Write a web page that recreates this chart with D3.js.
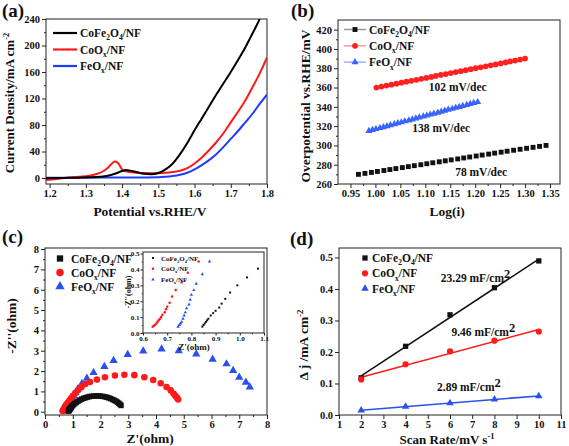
<!DOCTYPE html>
<html><head><meta charset="utf-8">
<script src="https://cdn.jsdelivr.net/npm/d3@7"></script>
<style>
body{margin:0;background:#fff}
svg{display:block}
text{font-family:"Liberation Serif","Times New Roman",serif;font-weight:bold;fill:#111}
</style>
</head><body>
<svg id="chart" width="569" height="446"></svg>
<script>
// ---------- shared ----------
const seriesLabels = [
  [["CoFe",0],["2",1],["O",0],["4",1],["/NF",0]],
  [["CoO",0],["x",1],["/NF",0]],
  [["FeO",0],["x",1],["/NF",0]]
];
const seriesColors = ["#000000","#ff1a1a","#1e3cff"];

// ---------- (a) LSV ----------
const lsvBlackE = [1.19,1.22,1.25,1.28,1.31,1.34,1.36,1.38,1.40,1.41,1.42,1.44,1.46,1.48,1.50,1.52,1.54,1.56,1.58,1.60,1.62,1.64,1.66,1.68,1.70,1.72,1.74,1.76,1.78];
const lsvBlackJ = [-0.5,0,0.3,0.6,1.0,2.0,3.5,6.5,10.5,12,11.5,9,6.5,5.8,7.5,13,22,36,53,72,90,108,126,143,160,178,197,218,240];
const lsvRedE = [1.19,1.22,1.25,1.28,1.31,1.33,1.35,1.36,1.37,1.38,1.39,1.40,1.41,1.42,1.44,1.46,1.48,1.50,1.52,1.54,1.56,1.58,1.60,1.62,1.64,1.66,1.68,1.70,1.72,1.74,1.76,1.78,1.80];
const lsvRedJ = [-3,-1.5,0.5,2,3.5,6,11,15,21,25,22,13,10,9,8,7.5,7.2,7.2,7.8,9,11,15,22,31,42,54,68,84,100,117,137,158,182];
const lsvBlueE = [1.19,1.25,1.30,1.35,1.40,1.45,1.50,1.52,1.54,1.56,1.58,1.60,1.62,1.64,1.66,1.68,1.70,1.72,1.74,1.76,1.78,1.80];
const lsvBlueJ = [0.3,0.5,0.6,0.7,0.8,0.9,1.2,1.8,3,5,8,13,19.5,27,36,47,59,71,84,97,112,126];
const lsvXTicks = [1.2,1.3,1.4,1.5,1.6,1.7,1.8];
const lsvYTicks = [0,40,80,120,160,200,240];

// ---------- (b) Tafel ----------
const tafelBlackX = [0.966,0.979,0.992,1.004,1.017,1.029,1.041,1.054,1.066,1.078,1.091,1.103,1.115,1.128,1.140,1.152,1.165,1.177,1.189,1.202,1.214,1.227,1.239,1.252,1.264,1.277,1.290,1.303,1.316,1.329,1.342];
const tafelBlackY = [270,271,272,273,274,275,276,277,278,279,280,281,282,283,284,285,286,287,288,289,290,291,292,293,294,295,296,297,298,299,300];
const tafelRedX = [1.002,1.012,1.022,1.032,1.042,1.052,1.062,1.072,1.082,1.092,1.102,1.112,1.121,1.131,1.141,1.151,1.161,1.171,1.181,1.191,1.201,1.211,1.221,1.231,1.241,1.251,1.261,1.270,1.280,1.290,1.300];
const tafelRedY = [360,361,362,363,364,365,366,367,368,369,370,371,372,373,374,375,376,377,378,379,380,381,382,383,384,385,386,387,388,389,390];
const tafelBlueX = [0.987,0.994,1.001,1.009,1.016,1.023,1.030,1.038,1.045,1.052,1.059,1.067,1.074,1.081,1.088,1.096,1.103,1.110,1.117,1.125,1.132,1.139,1.146,1.154,1.161,1.168,1.175,1.183,1.190,1.197,1.205];
const tafelBlueY = [315,316,317,318,319,320,321,322,323,324,325,326,327,328,329,330,331,332,333,334,335,336,337,338,339,340,341,342,343,344,345];
const tafelXTicks = [0.95,1.00,1.05,1.10,1.15,1.20,1.25,1.30,1.35];
const tafelYTicks = [260,280,300,320,340,360,380,400,420];
const tafelNotes = [["102 mV/dec",1.165,361],["138 mV/dec",1.132,318],["78 mV/dec",1.212,272]];

// ---------- (c) Nyquist ----------
const eisBlackX = [0.845,0.85,0.855,0.86,0.865,0.87,0.88,0.89,0.90,0.915,0.925,0.94,0.96,0.99,1.03,1.075,1.13,1.19,1.25,1.32,1.39,1.46,1.53,1.60,1.68,1.76,1.84,1.92,2.00,2.08,2.16,2.23,2.30,2.37,2.44,2.50,2.56,2.61,2.66,2.70,2.74];
const eisBlackY = [0.04,0.05,0.06,0.07,0.08,0.09,0.11,0.125,0.14,0.16,0.185,0.215,0.255,0.30,0.35,0.405,0.46,0.52,0.57,0.62,0.66,0.69,0.72,0.745,0.76,0.77,0.775,0.775,0.77,0.755,0.735,0.71,0.68,0.645,0.60,0.56,0.52,0.47,0.42,0.37,0.31];
const eisRedX = [0.64,0.645,0.65,0.655,0.66,0.665,0.67,0.675,0.68,0.69,0.695,0.70,0.71,0.72,0.735,0.76,0.785,0.83,0.88,0.94,1.01,1.09,1.19,1.31,1.45,1.62,1.87,2.16,2.52,2.86,3.22,3.58,3.90,4.17,4.38,4.53,4.63,4.70,4.76,4.80];
const eisRedY = [0.04,0.045,0.05,0.06,0.07,0.08,0.09,0.10,0.115,0.13,0.15,0.165,0.19,0.23,0.27,0.32,0.38,0.45,0.55,0.66,0.78,0.92,1.06,1.21,1.36,1.46,1.58,1.70,1.78,1.82,1.80,1.70,1.56,1.40,1.22,1.05,0.90,0.78,0.68,0.60];
const eisBlueX = [0.745,0.75,0.755,0.76,0.765,0.77,0.775,0.78,0.79,0.795,0.80,0.81,0.82,0.845,0.875,0.92,0.97,1.03,1.10,1.18,1.33,1.51,1.75,2.14,2.47,2.98,3.54,4.20,4.82,5.45,6.04,6.54,6.78,7.00,7.24,7.38];
const eisBlueY = [0.04,0.05,0.06,0.07,0.09,0.11,0.13,0.155,0.18,0.21,0.24,0.27,0.31,0.37,0.45,0.55,0.66,0.79,0.93,1.12,1.38,1.64,1.92,2.22,2.52,2.81,2.98,3.08,3.00,2.84,2.58,2.35,2.02,1.69,1.45,1.21];
const eisXTicks = [0,1,2,3,4,5,6,7,8];
const eisYTicks = [0,1,2,3,4,5,6,7,8];
const insetXTicks = [0.6,0.7,0.8,0.9,1.0,1.1];
const insetYTicks = [0.0,0.1,0.2,0.3,0.4,0.5];

// ---------- (d) Cdl ----------
const scanRates = [2,4,6,8,10];
const cdlBlack = [0.118,0.218,0.318,0.404,0.489];
const cdlRed = [0.113,0.161,0.202,0.236,0.265];
const cdlBlue = [0.015,0.027,0.038,0.050,0.060];
const cdlXTicks = [1,2,3,4,5,6,7,8,9,10,11];
const cdlYTicks = [0.0,0.1,0.2,0.3,0.4,0.5];
const cdlNotes = [["23.29 mF/cm","2",7.15,0.435],["9.46 mF/cm","2",7.5,0.263],["2.89 mF/cm","2",6.85,0.089]];

// =====================================================
const svg = d3.select("#chart");
const zip = (xs, ys) => xs.map((v,i)=>[v, ys[i]]);

function midTicks(t){ const m=[]; for(let i=0;i<t.length-1;i++) m.push((t[i]+t[i+1])/2); return m; }

function makePanel(c){
  const g = svg.append("g");
  const x = d3.scaleLinear().domain(c.xd).range([c.l, c.r]);
  const y = d3.scaleLinear().domain(c.yd).range([c.b, c.t]);
  const fs = c.fs || 10.5;
  const styleAxis = s => {
    s.select(".domain").remove();
    s.selectAll(".tick line").attr("stroke","#222").attr("stroke-width",1);
    s.selectAll(".tick text").attr("font-family",'"Liberation Serif",serif').attr("font-weight","bold").attr("font-size",fs).attr("fill","#111");
  };
  const ts = c.tickSize || 4;
  g.append("g").attr("transform",`translate(0,${c.b})`)
    .call(d3.axisBottom(x).tickValues(c.xt).tickFormat(c.xf).tickSize(ts).tickPadding(c.xpad||2)).call(styleAxis);
  g.append("g").attr("transform",`translate(${c.l},0)`)
    .call(d3.axisLeft(y).tickValues(c.yt).tickFormat(c.yf).tickSize(ts).tickPadding(c.ypad||2)).call(styleAxis);
  if(c.minor !== false){
    g.append("g").attr("transform",`translate(0,${c.b})`)
      .call(d3.axisBottom(x).tickValues(midTicks(c.xt)).tickFormat(null).tickSize(ts/2)).call(s=>s.selectAll(".tick text").remove()).call(styleAxis);
    g.append("g").attr("transform",`translate(${c.l},0)`)
      .call(d3.axisLeft(y).tickValues(midTicks(c.yt)).tickFormat(null).tickSize(ts/2)).call(s=>s.selectAll(".tick text").remove()).call(styleAxis);
  }
  g.append("rect").attr("x",c.l).attr("y",c.t).attr("width",c.r-c.l).attr("height",c.b-c.t)
    .attr("fill","none").attr("stroke","#222").attr("stroke-width",1);
  return {g,x,y};
}

// parts: [text, mode] mode 0 normal, 1 subscript, 2 superscript
function richText(sel, parts, size){
  let off = 0;
  parts.forEach(([t,mode])=>{
    const target = mode===1 ? size*0.3 : mode===2 ? -size*0.38 : 0;
    const ts = sel.append("tspan").attr("font-size", mode ? size*0.65 : size).text(t);
    if(target !== off) ts.attr("dy", target-off);
    off = target;
  });
  return sel;
}

function panelTag(txt, x, y){
  svg.append("text").attr("x",x).attr("y",y).attr("font-size",19).attr("font-weight","normal").text(txt);
}
function yTitle(parts, cx, cy, size){
  const t = svg.append("text").attr("transform",`translate(${cx},${cy}) rotate(-90)`).attr("text-anchor","middle").attr("font-size",size);
  richText(t, parts, size);
}
function xTitle(parts, cx, y, size){
  const t = svg.append("text").attr("x",cx).attr("y",y).attr("text-anchor","middle").attr("font-size",size);
  richText(t, parts, size);
}

const fmt1 = d3.format(".1f"), fmt2 = d3.format(".2f"), fmt0 = d3.format("d");

// ================= (a) =================
{
  const P = makePanel({l:46,r:267,t:19,b:184,xd:[1.19,1.8],yd:[-9,240],xt:lsvXTicks,yt:lsvYTicks,xf:fmt1,yf:fmt0});
  svg.append("clipPath").attr("id","clipA").append("rect").attr("x",46).attr("y",19).attr("width",221).attr("height",165);
  const line = d3.line().x(d=>P.x(d[0])).y(d=>P.y(d[1])).curve(d3.curveMonotoneX);
  const data = [zip(lsvBlueE,lsvBlueJ), zip(lsvRedE,lsvRedJ), zip(lsvBlackE,lsvBlackJ)];
  const cols = [seriesColors[2],seriesColors[1],seriesColors[0]];
  P.g.append("g").attr("clip-path","url(#clipA)").selectAll("path").data(data).join("path")
    .attr("d",line).attr("fill","none").attr("stroke",(d,i)=>cols[i]).attr("stroke-width",2);
  seriesLabels.forEach((lab,i)=>{
    const yy = 33 + i*16.5;
    P.g.append("line").attr("x1",53).attr("x2",77).attr("y1",yy).attr("y2",yy).attr("stroke",seriesColors[i]).attr("stroke-width",2.2);
    richText(P.g.append("text").attr("x",80).attr("y",yy+4), lab, 11.5);
  });
  panelTag("(a)",2,17);
  yTitle([["Current Density/mA cm",0],["-2",2]], 14, 103, 13);
  xTitle([["Potential vs.RHE/V",0]], 150, 216, 13.5);
}

// ================= (b) =================
{
  const P = makePanel({l:338,r:560,t:20,b:184,xd:[0.925,1.37],yd:[260,430],xt:tafelXTicks,yt:tafelYTicks,xf:fmt2,yf:fmt0});
  const sq = d3.symbol().type(d3.symbolSquare).size(24);
  const ci = d3.symbol().type(d3.symbolCircle).size(26);
  const tr = d3.symbol().type(d3.symbolTriangle).size(22);
  const sets = [
    {d:zip(tafelBlackX,tafelBlackY), s:sq, c:"#111111"},
    {d:zip(tafelRedX,tafelRedY), s:ci, c:"#ff2020"},
    {d:zip(tafelBlueX,tafelBlueY), s:tr, c:"#3a64ff"}
  ];
  sets.forEach(st=>{
    P.g.append("g").selectAll("path").data(st.d).join("path")
      .attr("transform",d=>`translate(${P.x(d[0])},${P.y(d[1])})`).attr("d",st.s()).attr("fill",st.c);
  });
  const legLine = ["#999999","#ff9a9a","#9ab0ff"];
  const legSym = [sq, ci, tr];
  const legCol = ["#111111","#ff2020","#3a64ff"];
  seriesLabels.forEach((lab,i)=>{
    const yy = 29.5 + i*16.3;
    P.g.append("line").attr("x1",344).attr("x2",366).attr("y1",yy).attr("y2",yy).attr("stroke",legLine[i]).attr("stroke-width",1.5);
    P.g.append("path").attr("transform",`translate(355,${yy})`).attr("d",legSym[i]()).attr("fill",legCol[i]);
    richText(P.g.append("text").attr("x",369).attr("y",yy+4), lab, 11.5);
  });
  tafelNotes.forEach(([t,xv,yv])=>{
    P.g.append("text").attr("x",P.x(xv)).attr("y",P.y(yv)).attr("dy","0.35em").attr("text-anchor","middle").attr("font-size",11.5).text(t);
  });
  panelTag("(b)",291,17);
  yTitle([["Overpotential vs.RHE/mV",0]], 310, 106, 13.5);
  xTitle([["Log(i)",0]], 447, 216, 13.5);
}

// ================= (c) =================
{
  const P = makePanel({l:45,r:267,t:248,b:415,xd:[0,8],yd:[-0.16,8.05],xt:eisXTicks,yt:eisYTicks,xf:fmt0,yf:fmt0});
  const sq = d3.symbol().type(d3.symbolSquare).size(30);
  const ci = d3.symbol().type(d3.symbolCircle).size(34);
  const tr = d3.symbol().type(d3.symbolTriangle).size(30);
  const sets = [
    {d:zip(eisBlueX,eisBlueY), s:tr, c:"#2a50f0"},
    {d:zip(eisRedX,eisRedY), s:ci, c:"#ff1a1a"},
    {d:zip(eisBlackX,eisBlackY), s:sq, c:"#111111"}
  ];
  sets.forEach(st=>{
    P.g.append("g").selectAll("path").data(st.d).join("path")
      .attr("transform",d=>`translate(${P.x(d[0])},${P.y(d[1])})`).attr("d",st.s()).attr("fill",st.c);
  });
  const lsq = d3.symbol().type(d3.symbolSquare).size(40);
  const lci = d3.symbol().type(d3.symbolCircle).size(44);
  const ltr = d3.symbol().type(d3.symbolTriangle).size(38);
  const legSym = [lsq, lci, ltr];
  const legCol = ["#111111","#ff1a1a","#2a50f0"];
  seriesLabels.forEach((lab,i)=>{
    const yy = 258.5 + i*14;
    P.g.append("path").attr("transform",`translate(60,${yy})`).attr("d",legSym[i]()).attr("fill",legCol[i]);
    richText(P.g.append("text").attr("x",71).attr("y",yy+4), lab, 11.5);
  });
  panelTag("(c)",2,243);
  yTitle([["-Z''(ohm)",0]], 16, 326, 13.5);
  xTitle([["Z'(ohm)",0]], 150, 443, 13.5);

  // inset
  const I = makePanel({l:143,r:264,t:252,b:333,xd:[0.6,1.1],yd:[0,0.51],xt:insetXTicks,yt:insetYTicks,xf:fmt1,yf:fmt1,fs:7,tickSize:2.5,xpad:1,ypad:1});
  const sq2 = d3.symbol().type(d3.symbolSquare).size(4);
  const ci2 = d3.symbol().type(d3.symbolCircle).size(5);
  const tr2 = d3.symbol().type(d3.symbolTriangle).size(5);
  const isets = [
    {d:zip(eisBlackX,eisBlackY).filter(p=>p[0]<=1.1&&p[1]<=0.5), s:sq2, c:"#111111"},
    {d:zip(eisRedX,eisRedY).filter(p=>p[0]<=1.1&&p[1]<=0.5), s:ci2, c:"#ff1a1a"},
    {d:zip(eisBlueX,eisBlueY).filter(p=>p[0]<=1.1&&p[1]<=0.5), s:tr2, c:"#2a50f0"}
  ];
  isets.forEach(st=>{
    I.g.append("g").selectAll("path").data(st.d).join("path")
      .attr("transform",d=>`translate(${I.x(d[0])},${I.y(d[1])})`).attr("d",st.s()).attr("fill",st.c);
  });
  const iSym=[sq2,ci2,tr2];
  seriesLabels.forEach((lab,i)=>{
    const yy = 258 + i*10.7;
    I.g.append("path").attr("transform",`translate(153,${yy})`).attr("d",iSym[i]()).attr("fill",legCol[i]);
    richText(I.g.append("text").attr("x",161).attr("y",yy+2.5), lab, 7);
  });
  yTitle([["-Z''(ohm)",0]], 131, 292, 8);
  xTitle([["Z'(ohm)",0]], 194, 350, 9);
}

// ================= (d) =================
{
  const P = makePanel({l:339,r:561,t:248,b:415,xd:[1,11],yd:[0,0.53],xt:cdlXTicks,yt:cdlYTicks,xf:fmt0,yf:fmt1,minor:false});
  const sq = d3.symbol().type(d3.symbolSquare).size(28);
  const ci = d3.symbol().type(d3.symbolCircle).size(30);
  const tr = d3.symbol().type(d3.symbolTriangle).size(24);
  const sets = [
    {v:cdlBlack, s:sq, c:"#111111"},
    {v:cdlRed, s:ci, c:"#ff1a1a"},
    {v:cdlBlue, s:tr, c:"#2a50f0"}
  ];
  const xm = d3.mean(scanRates);
  sets.forEach(st=>{
    const ym = d3.mean(st.v);
    const slope = d3.sum(scanRates.map((x,i)=>(x-xm)*(st.v[i]-ym))) / d3.sum(scanRates.map(x=>(x-xm)**2));
    const icpt = ym - slope*xm;
    const x0 = d3.min(scanRates), x1 = d3.max(scanRates);
    P.g.append("line").attr("x1",P.x(x0)).attr("x2",P.x(x1)).attr("y1",P.y(icpt+slope*x0)).attr("y2",P.y(icpt+slope*x1))
      .attr("stroke",st.c).attr("stroke-width",1.5);
  });
  sets.forEach(st=>{
    P.g.append("g").selectAll("path").data(zip(scanRates,st.v)).join("path")
      .attr("transform",d=>`translate(${P.x(d[0])},${P.y(d[1])})`).attr("d",st.s()).attr("fill",st.c);
  });
  const legSym=[sq,ci,tr], legCol=["#111111","#ff1a1a","#2a50f0"];
  seriesLabels.forEach((lab,i)=>{
    const yy = 258 + i*15.3;
    P.g.append("path").attr("transform",`translate(365,${yy})`).attr("d",legSym[i]()).attr("fill",legCol[i]);
    richText(P.g.append("text").attr("x",372).attr("y",yy+4), lab, 11.5);
  });
  cdlNotes.forEach(([t,sup,xv,yv])=>{
    const tx = P.g.append("text").attr("x",P.x(xv)).attr("y",P.y(yv)).attr("dy","0.35em").attr("text-anchor","middle").attr("font-size",11.5);
    tx.append("tspan").text(t);
    tx.append("tspan").attr("dy",-4).attr("font-size",12.5).text(sup);
  });
  panelTag("(d)",290,245);
  yTitle([["\u0394 j /mA cm",0],["-2",2]], 308, 345, 13.5);
  xTitle([["Scan Rate/mV s",0],["-1",2]], 447, 444, 13);
}
</script>
</body></html>
